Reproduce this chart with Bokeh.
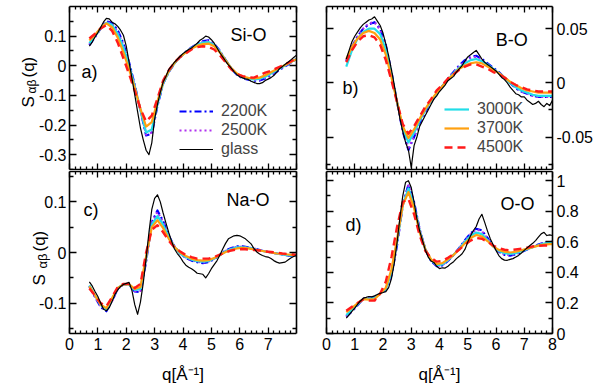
from bokeh.plotting import figure
from bokeh.layouts import row, column
from bokeh.models import (Range1d, LinearAxis, FixedTicker, CustomJSTickFormatter,
                          Label, Legend, LegendItem, Grid)
from bokeh.embed import file_html
from bokeh.resources import INLINE
import math

FONT = "Liberation Sans"

q_fine = [0.7, 0.8, 0.9, 1.0, 1.1, 1.2, 1.3, 1.4, 1.5, 1.6,
          1.7, 1.8, 1.9, 2.0, 2.1, 2.2, 2.3, 2.4, 2.5, 2.6,
          2.7, 2.8, 2.9, 3.0, 3.1, 3.2, 3.3, 3.4, 3.5, 3.6,
          3.7, 3.8, 3.9, 4.0, 4.1, 4.2, 4.3, 4.4, 4.5, 4.6,
          4.7, 4.8, 4.9, 5.0, 5.1, 5.2, 5.3, 5.4, 5.5, 5.6,
          5.7, 5.8, 5.9, 6.0, 6.1, 6.2, 6.3, 6.4, 6.5, 6.6,
          6.7, 6.8, 6.9, 7.0, 7.1, 7.2, 7.3, 7.4, 7.5, 7.6,
          7.7, 7.8, 7.9, 8.0]

q_coarse = [0.7, 0.9, 1.1, 1.3, 1.5, 1.7, 1.9, 2.1, 2.3, 2.5,
            2.7, 2.9, 3.1, 3.3, 3.5, 3.7, 3.9, 4.1, 4.3, 4.5,
            4.7, 4.9, 5.1, 5.3, 5.5, 5.7, 5.9, 6.1, 6.3, 6.5,
            6.7, 6.9, 7.1, 7.3, 7.5, 7.7, 7.9, 8.0]

sio_glass = [0.066, 0.08, 0.097, 0.112, 0.13, 0.148, 0.16, 0.158, 0.147, 0.142,
             0.133, 0.12, 0.103, 0.066, 0.012, -0.042, -0.098, -0.155, -0.21, -0.25,
             -0.285, -0.30, -0.26, -0.18, -0.13, -0.09, -0.055, -0.035, -0.012, 0.0,
             0.012, 0.022, 0.032, 0.041, 0.048, 0.055, 0.06, 0.068, 0.076, 0.086,
             0.092, 0.1, 0.097, 0.088, 0.076, 0.06, 0.044, 0.03, 0.016, 0.003,
             -0.008, -0.02, -0.03, -0.037, -0.041, -0.044, -0.046, -0.052, -0.056, -0.06,
             -0.06, -0.057, -0.05, -0.045, -0.04, -0.033, -0.022, -0.01, -0.003, 0.005,
             0.012, 0.02, 0.028, 0.036]
sio_2200 = [0.07, 0.097, 0.126, 0.15, 0.145, 0.12, 0.075, 0.012, -0.065, -0.15,
            -0.235, -0.23, -0.135, -0.06, -0.02, 0.008, 0.03, 0.047, 0.062, 0.074,
            0.083, 0.086, 0.074, 0.05, 0.02, -0.01, -0.03, -0.042, -0.047, -0.05,
            -0.05, -0.043, -0.032, -0.02, -0.008, 0.004, 0.017, 0.024]
sio_2500 = [0.072, 0.098, 0.126, 0.148, 0.142, 0.115, 0.07, 0.008, -0.067, -0.15,
            -0.232, -0.225, -0.133, -0.06, -0.02, 0.008, 0.03, 0.047, 0.061, 0.073,
            0.081, 0.084, 0.072, 0.05, 0.02, -0.009, -0.029, -0.041, -0.046, -0.048,
            -0.047, -0.04, -0.029, -0.018, -0.006, 0.005, 0.017, 0.023]
sio_3000 = [0.076, 0.1, 0.126, 0.145, 0.138, 0.108, 0.062, 0.002, -0.07, -0.15,
            -0.225, -0.215, -0.13, -0.06, -0.02, 0.008, 0.03, 0.046, 0.06, 0.071,
            0.078, 0.08, 0.07, 0.048, 0.02, -0.008, -0.028, -0.039, -0.044, -0.046,
            -0.044, -0.037, -0.026, -0.015, -0.004, 0.007, 0.018, 0.023]
sio_3700 = [0.085, 0.105, 0.128, 0.143, 0.13, 0.095, 0.045, -0.012, -0.075, -0.145,
            -0.205, -0.19, -0.12, -0.055, -0.018, 0.01, 0.03, 0.045, 0.058, 0.067,
            0.073, 0.075, 0.066, 0.045, 0.018, -0.008, -0.026, -0.036, -0.041, -0.043,
            -0.04, -0.032, -0.022, -0.012, -0.002, 0.008, 0.018, 0.022]
sio_4500 = [0.092, 0.108, 0.126, 0.137, 0.118, 0.078, 0.025, -0.028, -0.085, -0.145,
            -0.188, -0.168, -0.11, -0.05, -0.015, 0.012, 0.03, 0.042, 0.055, 0.063,
            0.066, 0.064, 0.055, 0.035, 0.012, -0.012, -0.028, -0.035, -0.039, -0.04,
            -0.032, -0.023, -0.017, -0.008, 0.0, 0.01, 0.02, 0.024]

bo_glass = [0.022, 0.03, 0.038, 0.043, 0.047, 0.051, 0.054, 0.056, 0.058, 0.059,
            0.061, 0.057, 0.053, 0.046, 0.036, 0.025, 0.012, -0.002, -0.018, -0.033,
            -0.045, -0.055, -0.062, -0.078, -0.058, -0.05, -0.04, -0.035, -0.03, -0.025,
            -0.02, -0.015, -0.012, -0.008, -0.005, -0.002, 0.002, 0.004, 0.006, 0.01,
            0.013, 0.016, 0.02, 0.024, 0.026, 0.028, 0.03, 0.026, 0.022, 0.019,
            0.017, 0.015, 0.013, 0.011, 0.008, 0.005, 0.003, 0.0, -0.004, -0.007,
            -0.01, -0.011, -0.013, -0.013, -0.016, -0.018, -0.02, -0.019, -0.017, -0.02,
            -0.022, -0.019, -0.021, -0.016]
bo_2200 = [0.02, 0.033, 0.043, 0.05, 0.054, 0.056, 0.05, 0.035, 0.01, -0.018,
           -0.045, -0.062, -0.05, -0.037, -0.027, -0.018, -0.01, -0.003, 0.004, 0.01,
           0.016, 0.021, 0.024, 0.025, 0.022, 0.018, 0.014, 0.01, 0.005, 0.0,
           -0.005, -0.008, -0.01, -0.012, -0.013, -0.013, -0.013, -0.013]
bo_2500 = [0.021, 0.033, 0.043, 0.05, 0.055, 0.056, 0.049, 0.034, 0.009, -0.018,
           -0.044, -0.06, -0.049, -0.036, -0.026, -0.018, -0.01, -0.003, 0.004, 0.01,
           0.015, 0.02, 0.023, 0.024, 0.021, 0.017, 0.013, 0.009, 0.005, 0.0,
           -0.004, -0.008, -0.01, -0.012, -0.013, -0.013, -0.013, -0.013]
bo_3000 = [0.015, 0.03, 0.041, 0.047, 0.05, 0.05, 0.045, 0.031, 0.008, -0.018,
           -0.042, -0.055, -0.046, -0.035, -0.025, -0.017, -0.01, -0.003, 0.003, 0.009,
           0.014, 0.018, 0.021, 0.022, 0.02, 0.017, 0.013, 0.009, 0.005, 0.0,
           -0.004, -0.007, -0.009, -0.011, -0.012, -0.012, -0.012, -0.012]
bo_3700 = [0.022, 0.033, 0.041, 0.046, 0.048, 0.046, 0.04, 0.026, 0.005, -0.018,
           -0.04, -0.051, -0.043, -0.033, -0.024, -0.016, -0.009, -0.003, 0.003, 0.008,
           0.013, 0.016, 0.018, 0.019, 0.018, 0.015, 0.012, 0.009, 0.005, 0.001,
           -0.002, -0.005, -0.007, -0.008, -0.009, -0.009, -0.009, -0.009]
bo_4500 = [0.019, 0.03, 0.038, 0.043, 0.044, 0.042, 0.035, 0.021, 0.002, -0.018,
           -0.038, -0.047, -0.04, -0.031, -0.022, -0.015, -0.007, -0.002, 0.004, 0.008,
           0.012, 0.015, 0.017, 0.017, 0.015, 0.013, 0.01, 0.008, 0.005, 0.001,
           -0.002, -0.004, -0.006, -0.007, -0.008, -0.008, -0.008, -0.008]

nao_glass = [-0.058, -0.066, -0.077, -0.087, -0.1, -0.112, -0.115, -0.109, -0.097, -0.083,
             -0.074, -0.067, -0.063, -0.061, -0.059, -0.075, -0.103, -0.122, -0.098, -0.06,
             -0.012, 0.04, 0.085, 0.107, 0.114, 0.1, 0.078, 0.058, 0.039, 0.022,
             0.007, -0.002, -0.009, -0.018, -0.025, -0.029, -0.032, -0.036, -0.041, -0.042,
             -0.043, -0.05, -0.042, -0.032, -0.024, -0.016, -0.005, 0.007, 0.018, 0.027,
             0.03, 0.033, 0.034, 0.033, 0.03, 0.027, 0.022, 0.017, 0.008, 0.001,
             -0.003, -0.006, -0.008, -0.009, -0.012, -0.016, -0.019, -0.021, -0.02, -0.019,
             -0.015, -0.011, -0.008, -0.006]
nao_2200 = [-0.066, -0.088, -0.108, -0.116, -0.095, -0.072, -0.063, -0.063, -0.077, -0.078,
            -0.018, 0.06, 0.083, 0.062, 0.033, 0.012, -0.002, -0.011, -0.016, -0.019,
            -0.021, -0.019, -0.013, -0.005, 0.004, 0.009, 0.012, 0.012, 0.01, 0.008,
            0.005, 0.002, 0.0, -0.002, -0.004, -0.006, -0.007, -0.007]
nao_2500 = [-0.068, -0.088, -0.107, -0.114, -0.096, -0.072, -0.063, -0.063, -0.076, -0.076,
            -0.016, 0.058, 0.08, 0.06, 0.032, 0.012, -0.002, -0.01, -0.015, -0.018,
            -0.02, -0.018, -0.012, -0.005, 0.003, 0.008, 0.011, 0.011, 0.01, 0.008,
            0.005, 0.002, 0.0, -0.002, -0.004, -0.005, -0.006, -0.007]
nao_3000 = [-0.065, -0.085, -0.104, -0.112, -0.092, -0.07, -0.063, -0.063, -0.074, -0.072,
            -0.012, 0.055, 0.072, 0.055, 0.03, 0.011, -0.002, -0.009, -0.014, -0.017,
            -0.018, -0.017, -0.012, -0.005, 0.002, 0.007, 0.01, 0.01, 0.009, 0.007,
            0.004, 0.002, 0.0, -0.002, -0.004, -0.005, -0.006, -0.006]
nao_3700 = [-0.067, -0.085, -0.103, -0.11, -0.09, -0.07, -0.063, -0.063, -0.072, -0.068,
            -0.008, 0.05, 0.064, 0.048, 0.027, 0.011, 0.0, -0.007, -0.012, -0.015,
            -0.016, -0.015, -0.011, -0.005, 0.001, 0.005, 0.008, 0.009, 0.008, 0.006,
            0.004, 0.002, 0.0, -0.002, -0.003, -0.004, -0.005, -0.005]
nao_4500 = [-0.071, -0.085, -0.1, -0.106, -0.088, -0.068, -0.062, -0.062, -0.07, -0.062,
            0.0, 0.045, 0.054, 0.04, 0.023, 0.01, 0.002, -0.005, -0.009, -0.012,
            -0.012, -0.012, -0.009, -0.004, 0.0, 0.004, 0.006, 0.007, 0.006, 0.005,
            0.004, 0.002, 0.001, 0.0, -0.002, -0.003, -0.004, -0.005]

oo_glass = [0.10, 0.122, 0.145, 0.166, 0.19, 0.213, 0.231, 0.236, 0.242, 0.24,
            0.246, 0.255, 0.263, 0.268, 0.274, 0.3, 0.36, 0.46, 0.6, 0.76,
            0.9, 0.99, 1.0, 0.955, 0.86, 0.75, 0.67, 0.608, 0.545, 0.5,
            0.475, 0.465, 0.44, 0.425, 0.43, 0.428, 0.44, 0.457, 0.47, 0.49,
            0.505, 0.522, 0.55, 0.598, 0.64, 0.673, 0.7, 0.749, 0.78, 0.727,
            0.67, 0.619, 0.58, 0.544, 0.51, 0.49, 0.48, 0.479, 0.485, 0.49,
            0.5, 0.511, 0.527, 0.544, 0.56, 0.576, 0.59, 0.608, 0.63, 0.652,
            0.662, 0.641, 0.645, 0.641]
oo_2200 = [0.11, 0.145, 0.185, 0.228, 0.235, 0.238, 0.262, 0.285, 0.38, 0.58,
           0.84, 0.975, 0.86, 0.68, 0.55, 0.475, 0.44, 0.445, 0.475, 0.515,
           0.56, 0.61, 0.655, 0.685, 0.675, 0.625, 0.57, 0.535, 0.515, 0.51,
           0.518, 0.532, 0.55, 0.567, 0.582, 0.595, 0.6, 0.6]
oo_2500 = [0.112, 0.148, 0.187, 0.227, 0.233, 0.236, 0.262, 0.287, 0.385, 0.585,
           0.84, 0.97, 0.855, 0.675, 0.55, 0.477, 0.442, 0.447, 0.477, 0.515,
           0.558, 0.607, 0.65, 0.68, 0.67, 0.62, 0.57, 0.537, 0.518, 0.513,
           0.52, 0.534, 0.551, 0.566, 0.58, 0.592, 0.598, 0.598]
oo_3000 = [0.12, 0.155, 0.19, 0.225, 0.228, 0.232, 0.262, 0.29, 0.4, 0.6,
           0.84, 0.95, 0.84, 0.67, 0.55, 0.48, 0.448, 0.452, 0.48, 0.515,
           0.555, 0.6, 0.64, 0.66, 0.65, 0.612, 0.57, 0.54, 0.525, 0.52,
           0.525, 0.538, 0.552, 0.565, 0.578, 0.588, 0.595, 0.595]
oo_3700 = [0.14, 0.168, 0.198, 0.225, 0.222, 0.225, 0.26, 0.3, 0.42, 0.62,
           0.84, 0.925, 0.82, 0.66, 0.55, 0.485, 0.455, 0.46, 0.485, 0.515,
           0.55, 0.59, 0.625, 0.645, 0.635, 0.605, 0.57, 0.547, 0.535, 0.53,
           0.535, 0.545, 0.555, 0.565, 0.575, 0.582, 0.585, 0.585]
oo_4500 = [0.149, 0.175, 0.2, 0.222, 0.215, 0.215, 0.262, 0.34, 0.5, 0.7,
           0.86, 0.88, 0.78, 0.64, 0.54, 0.495, 0.47, 0.475, 0.495, 0.52,
           0.55, 0.58, 0.608, 0.625, 0.62, 0.6, 0.575, 0.56, 0.548, 0.545,
           0.55, 0.555, 0.562, 0.57, 0.574, 0.576, 0.576, 0.576]

STYLE = {
    "2200K": dict(line_color="#0000ff", line_width=2.2, line_dash="7 3 2 3"),
    "2500K": dict(line_color="#b030f0", line_width=2.2, line_dash="2 3"),
    "3000K": dict(line_color="#22dde8", line_width=2.2, line_dash="solid"),
    "3700K": dict(line_color="#ffa010", line_width=2.2, line_dash="solid"),
    "4500K": dict(line_color="#ff1a1a", line_width=2.4, line_dash="8 5"),
    "glass": dict(line_color="#000000", line_width=1.2, line_dash="solid"),
}

Y_CODE = """
const v = Math.round(tick * 1000) / 1000;
return Math.abs(v) < 1e-9 ? "0" : String(v);
"""
EMPTY_CODE = "return '';"

# Frames are widened past the visible box so that titles and tick labels that
# sit outside it are drawn inside a frame; the visible box is drawn by axes
# pinned at the data limits.
PX_PER_Q_LEFT = 227.0 / 8.0
PX_PER_Q_RIGHT = 226.0 / 8.0
X_LEFT_PAD = 69.0 / PX_PER_Q_LEFT          # left column: to the canvas' left edge
XR_LEFT_PAD = 10.0 / PX_PER_Q_RIGHT        # right column: 10 px left of q = 0
XR_RIGHT_PAD = 62.0 / PX_PER_Q_RIGHT       # right column: to the canvas' right edge
BOTTOM_PX = 51.0
FRAME_H_BOTTOM = 162.0


def make_axis(ticks, minor, code, shown, standoff=3, major_len=7, minor_len=4,
              bounds=None, fixed=None):
    ax = LinearAxis(
        ticker=FixedTicker(ticks=ticks, minor_ticks=minor),
        formatter=CustomJSTickFormatter(code=code if shown else EMPTY_CODE),
        major_tick_in=major_len, major_tick_out=0,
        minor_tick_in=minor_len, minor_tick_out=0,
        axis_line_width=1.6, axis_line_color="black",
        major_tick_line_width=1.3, minor_tick_line_width=1.3,
        major_tick_line_color="black", minor_tick_line_color="black",
        major_label_text_font=FONT,
        major_label_text_font_size="16px" if shown else "0px",
        major_label_text_color="black",
        major_label_standoff=standoff if shown else 0,
    )
    if bounds is not None:
        ax.bounds = bounds
    if fixed is not None:
        ax.fixed_location = fixed
    return ax


def make_panel(x_lo, x_hi, y_lo, y_hi, width, height, bl, br, bt, bb):
    p = figure(width=width, height=height,
               x_range=Range1d(x_lo, x_hi), y_range=Range1d(y_lo, y_hi),
               output_backend="svg", toolbar_location=None,
               x_axis_location=None, y_axis_location=None,
               min_border_left=bl, min_border_right=br,
               min_border_top=bt, min_border_bottom=bb)
    p.outline_line_color = None
    p.background_fill_color = "white"
    p.border_fill_color = "white"
    for r in list(p.center):
        if isinstance(r, Grid):
            r.visible = False
    return p


def draw(p, glass, s2200, s2500, s3000, s3700, s4500):
    r = {}
    for lab, ys in (("2200K", s2200), ("2500K", s2500), ("3000K", s3000),
                    ("3700K", s3700), ("4500K", s4500)):
        r[lab] = p.line(q_coarse, ys, line_join="round", **STYLE[lab])
    r["glass"] = p.line(q_fine, glass, line_join="round", **STYLE["glass"])
    return r


def panel_text(p, x, y, text, align="left"):
    p.add_layout(Label(x=x, y=y, text=text, text_font=FONT, text_font_size="18px",
                       text_align=align, text_baseline="alphabetic", text_color="black"))


def ylabel(p, xs, ys, big, small):
    parts = [("S", xs[0], ys[0], big), ("\u03b1\u03b2", xs[1], ys[1], small),
             ("(q)", xs[2], ys[2], big)]
    for txt, x, y, fs in parts:
        p.add_layout(Label(x=x, y=y, x_units="screen", y_units="screen", text=txt,
                           angle=math.pi / 2, text_font=FONT, text_font_size=fs,
                           text_align="left", text_baseline="alphabetic",
                           text_color="black"))


def qlabel(p, x_center):
    p.add_layout(Label(x=x_center, y=10, x_units="screen", y_units="screen",
                       text="q[\u00c5\u207b\u00b9]", text_font=FONT,
                       text_font_size="17px", text_align="center",
                       text_baseline="alphabetic", text_color="black"))


def legend(p, renderers, labels, loc, glyph_w):
    items = [LegendItem(label=l, renderers=[renderers[l]]) for l in labels]
    leg = Legend(items=items, location=loc, border_line_color=None,
                 background_fill_alpha=0, label_text_font=FONT,
                 label_text_font_size="16px", glyph_width=glyph_w, glyph_height=18,
                 label_height=18, label_standoff=8, spacing=1, padding=0, margin=0)
    p.add_layout(leg)


x_major = [0, 1, 2, 3, 4, 5, 6, 7, 8]
x_minor = [0.2, 0.4, 0.6, 0.8, 1.2, 1.4, 1.6, 1.8, 2.2, 2.4, 2.6, 2.8,
           3.2, 3.4, 3.6, 3.8, 4.2, 4.4, 4.6, 4.8, 5.2, 5.4, 5.6, 5.8,
           6.2, 6.4, 6.6, 6.8, 7.2, 7.4, 7.6, 7.8]
X_CODE_C = "return tick > 7.5 ? '' : String(Math.round(tick));"
X_CODE_D = "return String(Math.round(tick));"

XB = (-XR_LEFT_PAD, 8 + XR_RIGHT_PAD)

# ---------------- panel a ----------------
pa = make_panel(-X_LEFT_PAD, 8, -0.35, 0.2, 310, 170, 0, 14, 6, 1)
ya_major = [-0.3, -0.2, -0.1, 0.0, 0.1]
ya_minor = [-0.35, -0.25, -0.15, -0.05, 0.05, 0.15]
pa.add_layout(make_axis(ya_major, ya_minor, Y_CODE, True, standoff=3, fixed=0), "left")
pa.add_layout(make_axis(ya_major, ya_minor, Y_CODE, False), "right")
pa.add_layout(make_axis(x_major, x_minor, X_CODE_C, False, major_len=6, minor_len=3,
                        bounds=(0, 8)), "below")
pa.add_layout(make_axis(x_major, x_minor, X_CODE_C, False, major_len=6, minor_len=3,
                        bounds=(0, 8)), "above")
ra = draw(pa, sio_glass, sio_2200, sio_2500, sio_3000, sio_3700, sio_4500)
panel_text(pa, 6.94, 0.105, "Si-O", "right")
panel_text(pa, 0.42, -0.022, "a)")
legend(pa, ra, ["2200K", "2500K", "glass"], (179, 11), 34)
ylabel(pa, (28, 31, 28), (62, 76, 92), "17px", "12px")

# ---------------- panel b ----------------
pb = make_panel(XB[0], XB[1], -0.08, 0.0705, 304, 170, 6, 0, 6, 1)
yb_major = [-0.05, 0.0, 0.05]
yb_minor = [-0.075, -0.025, 0.025]
pb.add_layout(make_axis(yb_major, yb_minor, Y_CODE, False, fixed=0), "left")
pb.add_layout(make_axis(yb_major, yb_minor, Y_CODE, True, standoff=4, fixed=8), "right")
pb.add_layout(make_axis(x_major, x_minor, X_CODE_D, False, major_len=6, minor_len=3,
                        bounds=(0, 8)), "below")
pb.add_layout(make_axis(x_major, x_minor, X_CODE_D, False, major_len=6, minor_len=3,
                        bounds=(0, 8)), "above")
rb = draw(pb, bo_glass, bo_2200, bo_2500, bo_3000, bo_3700, bo_4500)
panel_text(pb, 7.12, 0.0395, "B-O", "right")
panel_text(pb, 0.57, -0.0045, "b)")
legend(pb, rb, ["3000K", "3700K", "4500K"], (128, 13), 25)

# ---------------- panel c ----------------
c_lo, c_hi = -0.16, 0.16
c_pad = BOTTOM_PX * (c_hi - c_lo) / FRAME_H_BOTTOM
pc = make_panel(-X_LEFT_PAD, 8, c_lo - c_pad, c_hi, 310, 214, 0, 14, 1, 0)
yc_major = [-0.1, 0.0, 0.1]
yc_minor = [-0.15, -0.05, 0.05, 0.15]
pc.add_layout(make_axis(yc_major, yc_minor, Y_CODE, True, standoff=3, fixed=0,
                        bounds=(c_lo, c_hi)), "left")
pc.add_layout(make_axis(yc_major, yc_minor, Y_CODE, False, bounds=(c_lo, c_hi)), "right")
pc.add_layout(make_axis(x_major, x_minor, X_CODE_C, True, standoff=4, major_len=6,
                        minor_len=3, bounds=(0, 8), fixed=c_lo), "below")
pc.add_layout(make_axis(x_major, x_minor, X_CODE_C, False, major_len=6, minor_len=3,
                        bounds=(0, 8)), "above")
draw(pc, nao_glass, nao_2200, nao_2500, nao_3000, nao_3700, nao_4500)
panel_text(pc, 7.05, 0.103, "Na-O", "right")
panel_text(pc, 0.49, 0.083, "c)")
ylabel(pc, (39, 42, 39), (99, 116, 133), "17px", "13px")
qlabel(pc, 182.5)

# ---------------- panel d ----------------
d_lo, d_hi = 0.0, 1.06
d_pad = BOTTOM_PX * (d_hi - d_lo) / FRAME_H_BOTTOM
pd_ = make_panel(XB[0], XB[1], d_lo - d_pad, d_hi, 304, 214, 6, 0, 1, 0)
yd_major = [0.0, 0.2, 0.4, 0.6, 0.8, 1.0]
yd_minor = [0.1, 0.3, 0.5, 0.7, 0.9]
pd_.add_layout(make_axis(yd_major, yd_minor, Y_CODE, False, fixed=0,
                         bounds=(d_lo, d_hi)), "left")
pd_.add_layout(make_axis(yd_major, yd_minor, Y_CODE, True, standoff=4, fixed=8,
                         bounds=(d_lo, d_hi)), "right")
pd_.add_layout(make_axis(x_major, x_minor, X_CODE_D, True, standoff=4, major_len=6,
                         minor_len=3, fixed=d_lo, bounds=(0, 8)), "below")
pd_.add_layout(make_axis(x_major, x_minor, X_CODE_D, False, major_len=6, minor_len=3,
                         bounds=(0, 8)), "above")
draw(pd_, oo_glass, oo_2200, oo_2500, oo_3000, oo_3700, oo_4500)
panel_text(pd_, 7.36, 0.85, "O-O", "right")
panel_text(pd_, 0.67, 0.707, "d)")
qlabel(pd_, 123)

layout = column(row(pa, pb), row(pc, pd_))

with open("out.html", "w") as f:
    f.write(file_html(layout, INLINE))
